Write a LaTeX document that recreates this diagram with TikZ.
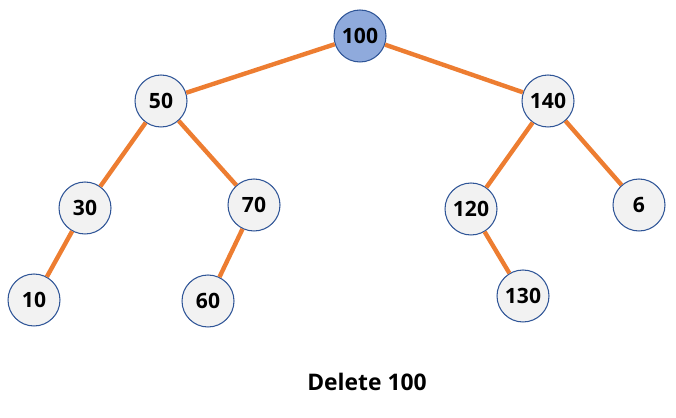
\documentclass[tikz,border=0pt]{standalone}
\usepackage{fontspec}
\setmainfont{Open Sans}
\usepackage{tikz}
\definecolor{cblue}{RGB}{47, 85, 151}
\definecolor{cbluelight}{RGB}{143, 170, 220}
\definecolor{cgraylight}{RGB}{242, 242, 242}
\definecolor{corange}{RGB}{237, 125, 49}
\tikzset{
	treenode/.style={%
			draw=cblue,%
			circle,%
			line width=0.6pt,%
			minimum size=1.04cm,%
			inner sep=0,%
			fill=cgraylight,%
			font={\fontsize{12}{14}\selectfont\bfseries}},%
	rootnode/.style={%
			treenode,%
			fill=cbluelight},%
	treeedge/.style={%
			draw=corange,%
			line width=2.5pt},%
}

\begin{document}
\begin{tikzpicture}[x=0.02cm, y=-0.02cm]%
	\useasboundingbox (0,0) rectangle (676,418);

	\node[rootnode] (n100) at (360,36) {100};
	\node[treenode] (n50) at (161,101) {50};
	\node[treenode] (n140) at (548,101) {140};
	\node[treenode] (n30) at (85,208) {30};
	\node[treenode] (n70) at (254,205) {70};
	\node[treenode] (n120) at (471,209) {120};
	\node[treenode] (n6) at (639,205) {6};
	\node[treenode] (n10) at (34,300) {10};
	\node[treenode] (n60) at (208,301) {60};
	\node[treenode] (n130) at (523,296) {130};

	\node[font={\fontsize{13}{15}\selectfont\bfseries}] (caption) at (367,382) {Delete 100};

	\foreach \a/\b in {n100/n50, n100/n140, n50/n30, n50/n70, n140/n120, n140/n6, n30/n10, n70/n60, n120/n130}
		\draw[treeedge] (\a) -- (\b);
\end{tikzpicture}
\end{document}
